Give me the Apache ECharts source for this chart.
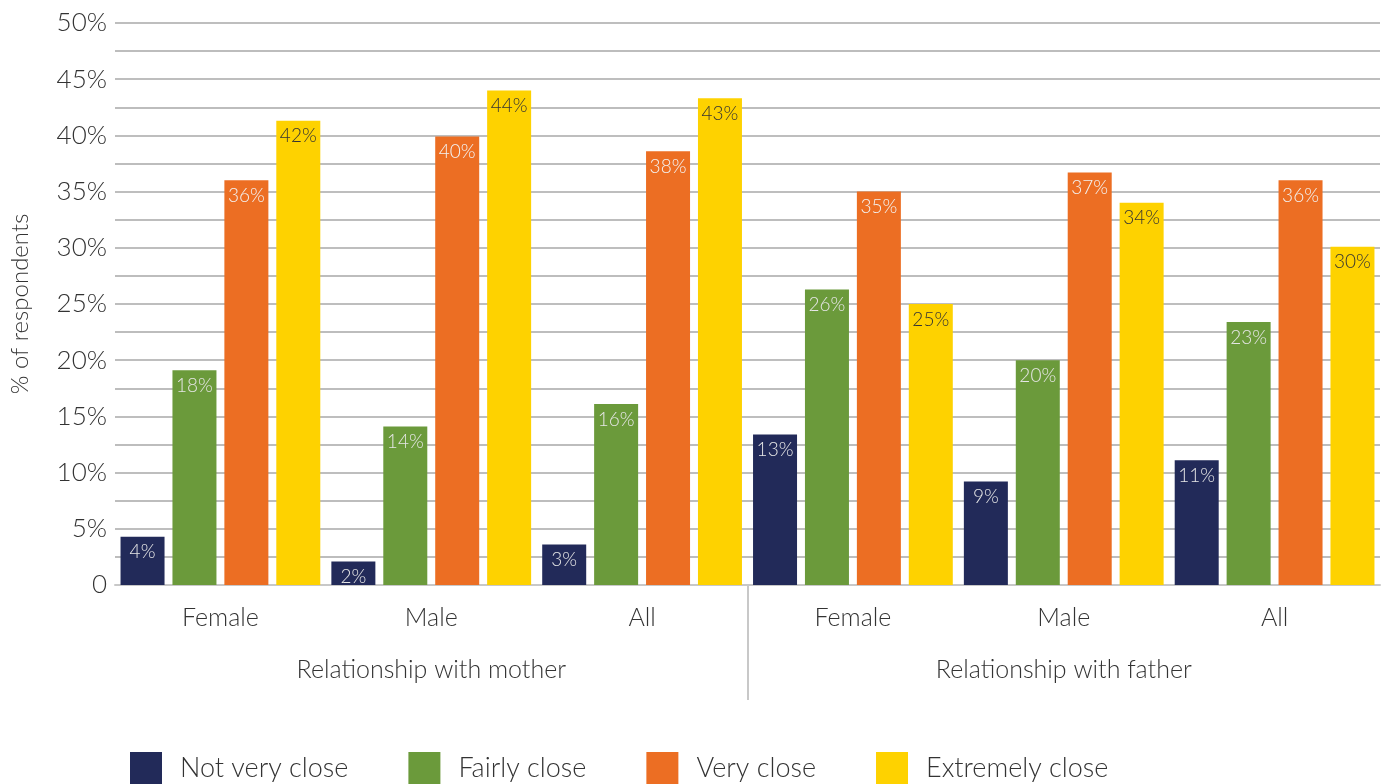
<!DOCTYPE html>
<html>
<head>
<meta charset="utf-8">
<script src="https://cdn.jsdelivr.net/npm/echarts@6/dist/echarts.min.js"></script>
<style>
  html, body { margin: 0; padding: 0; background: #fff; }
  #chart { width: 1386px; height: 784px; }
</style>
</head>
<body>
<div id="chart"></div>
<script>
const categories = ['Female', 'Male', 'All', 'Female', 'Male', 'All']
const groups = ['Relationship with mother', 'Relationship with father']
const seriesNames = ['Not very close', 'Fairly close', 'Very close', 'Extremely close']

// bar heights
const notVeryClose = [4.3, 2.1, 3.6, 13.4, 9.2, 11.1]
const fairlyClose = [19.1, 14.1, 16.1, 26.3, 20.0, 23.4]
const veryClose = [36.0, 39.9, 38.6, 35.0, 36.7, 36.0]
const extremelyClose = [41.3, 44.0, 43.3, 25.0, 34.0, 30.1]

// printed labels
const notVeryCloseLabels = ['4%', '2%', '3%', '13%', '9%', '11%']
const fairlyCloseLabels = ['18%', '14%', '16%', '26%', '20%', '23%']
const veryCloseLabels = ['36%', '40%', '38%', '35%', '37%', '36%']
const extremelyCloseLabels = ['42%', '44%', '43%', '25%', '34%', '30%']

const colors = ['#222a59', '#6b9a3b', '#ec6e23', '#fed200']
const labelColors = ['#e6e6e6', '#e6e6e6', '#f3f3f3', '#333333']
const font = 'Lato, "Open Sans", sans-serif'

const values = [notVeryClose, fairlyClose, veryClose, extremelyClose]
const labels = [notVeryCloseLabels, fairlyCloseLabels, veryCloseLabels, extremelyCloseLabels]

const chart = echarts.init(document.getElementById('chart'))

const series = seriesNames.map((name, i) => ({
  name: name,
  type: 'bar',
  barWidth: 44,
  barGap: '18%',
  itemStyle: { color: colors[i] },
  label: {
    show: true,
    position: 'insideTop',
    distance: 6,
    fontFamily: font,
    fontWeight: 300,
    fontSize: 19,
    color: labelColors[i],
    formatter: p => labels[i][p.dataIndex]
  },
  data: values[i]
}))

chart.setOption({
  animation: false,
  textStyle: { fontFamily: font },
  grid: { left: 113, right: 6, top: 23, bottom: 199 },
  legend: {
    left: 125,
    top: 747,
    itemWidth: 32,
    itemHeight: 32,
    itemGap: 60,
    icon: 'rect',
    textStyle: { fontFamily: font, fontWeight: 300, fontSize: 27, color: '#333', padding: [0, 0, 0, 13] },
    data: seriesNames
  },
  xAxis: [
    {
      type: 'category',
      data: categories,
      axisLine: { show: true, lineStyle: { color: '#c8c8c8', width: 2 } },
      axisTick: { show: false },
      axisLabel: { fontFamily: font, fontWeight: 300, fontSize: 25, color: '#333', margin: 20 }
    },
    {
      type: 'category',
      data: groups,
      position: 'bottom',
      axisLine: { show: false },
      axisTick: { show: false },
      axisLabel: { fontFamily: font, fontWeight: 300, fontSize: 25, color: '#333', margin: 72 }
    },
    {
      // separator between the two groups
      type: 'category',
      data: ['', '', ''],
      boundaryGap: false,
      position: 'bottom',
      axisLine: { show: false },
      axisLabel: { show: false },
      axisTick: {
        show: true,
        interval: (i) => i === 1,
        length: 115,
        lineStyle: { color: '#c8c8c8', width: 2 }
      }
    }
  ],
  yAxis: {
    type: 'value',
    min: 0,
    max: 50,
    interval: 5,
    name: '% of respondents',
    nameLocation: 'middle',
    nameGap: 83,
    nameRotate: 90,
    nameTextStyle: { fontFamily: font, fontWeight: 300, fontSize: 24, color: '#333' },
    axisLine: { show: false },
    axisTick: { show: false },
    axisLabel: {
      fontFamily: font,
      fontWeight: 300,
      fontSize: 26,
      color: '#333',
      margin: 8,
      formatter: v => v === 0 ? '0' : v + '%'
    },
    splitLine: { lineStyle: { color: '#a8a8a8', width: 1.5 } },
    minorTick: { show: false, splitNumber: 2 },
    minorSplitLine: { show: true, lineStyle: { color: '#a8a8a8', width: 1.5 } }
  },
  series: series
})
</script>
</body>
</html>
